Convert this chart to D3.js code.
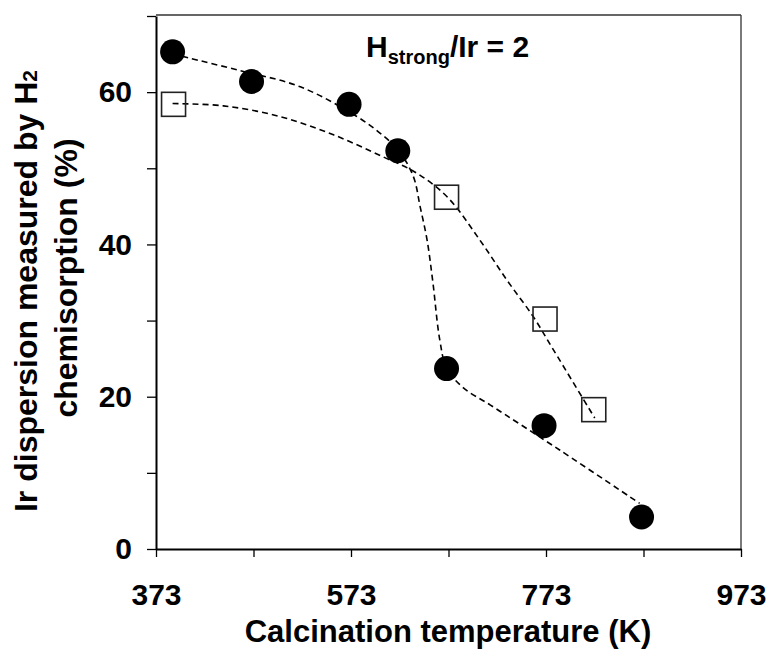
<!DOCTYPE html>
<html><head><meta charset="utf-8">
<script src="https://cdn.jsdelivr.net/npm/d3@7"></script>
<style>body{margin:0;background:#fff}svg{display:block}text{font-family:"Liberation Sans",Arial,sans-serif;font-weight:bold;fill:#000}</style>
</head><body><div id="chart"></div>
<script>
// measured points (filled circles)
const circleTemps = [390, 471, 571, 621, 671, 771, 871];
const circleValues = [65.3, 61.4, 58.4, 52.3, 23.7, 16.2, 4.2];
// measured points (open squares)
const squareTemps = [391, 671, 772, 822];
const squareValues = [58.4, 46.2, 30.2, 18.3];
// dashed fit curves
const circleFitTemps = [390, 457, 521, 579, 603, 622, 637, 644, 651, 657, 664, 671, 688, 716, 787, 869];
const circleFitValues = [65.0, 62.9, 60.7, 56.8, 54.6, 52.3, 48.9, 44.9, 40.6, 35.0, 27.5, 23.8, 21.2, 18.9, 13.0, 6.0];
const squareFitTemps = [390, 442, 500, 555, 606, 640, 672, 705, 733, 760, 779, 823];
const squareFitValues = [58.5, 58.2, 56.8, 54.4, 51.5, 49.4, 46.2, 40.6, 35.3, 30.5, 26.5, 17.2];
const xTickValues = [373, 473, 573, 673, 773, 873, 973];
const xTickLabels = ["373", "", "573", "", "773", "", "973"];
const yTickValues = [0, 10, 20, 30, 40, 50, 60, 70];
const yTickLabels = ["0", "", "20", "", "40", "", "60", ""];

const W = 769, H = 656;
const m = {l:156, r:28, t:16, b:107};
const svg = d3.select("#chart").append("svg").attr("width", W).attr("height", H);
const x = d3.scaleLinear().domain([373, 973]).range([m.l, W - m.r]);
const y = d3.scaleLinear().domain([0, 70]).range([H - m.b, m.t]);

// frame top/right
svg.append("line").attr("x1", m.l).attr("x2", W - m.r).attr("y1", m.t - 1).attr("y2", m.t - 1).attr("stroke", "#333").attr("stroke-width", 1.3);
svg.append("line").attr("x1", W - m.r).attr("x2", W - m.r).attr("y1", m.t - 1).attr("y2", H - m.b).attr("stroke", "#333").attr("stroke-width", 1.3);

const xAxis = svg.append("g").attr("transform", `translate(0,${H - m.b})`)
  .call(d3.axisBottom(x).tickValues(xTickValues).tickFormat((d,i) => xTickLabels[i]).tickSize(8).tickSizeOuter(0).tickPadding(27));
const yAxis = svg.append("g").attr("transform", `translate(${m.l},0)`)
  .call(d3.axisLeft(y).tickValues(yTickValues).tickFormat((d,i) => yTickLabels[i]).tickSize(9).tickSizeOuter(0).tickPadding(15));
[xAxis, yAxis].forEach(g => {
  g.select(".domain").attr("stroke", "#000").attr("stroke-width", 2);
  g.selectAll(".tick line").attr("stroke", "#000").attr("stroke-width", 1.3);
  g.selectAll(".tick text").attr("font-size", 30).attr("font-family", "Liberation Sans, Arial, sans-serif").attr("font-weight", "bold").attr("fill", "#000");
});

const dash = "6,4";
const line = d3.line().x(d => x(d[0])).y(d => y(d[1])).curve(d3.curveCatmullRom.alpha(0.5));
svg.append("path").datum(circleFitTemps.map((t,i) => [t, circleFitValues[i]]))
  .attr("d", line).attr("fill", "none").attr("stroke", "#000").attr("stroke-width", 1.6).attr("stroke-dasharray", dash);
svg.append("path").datum(squareFitTemps.map((t,i) => [t, squareFitValues[i]]))
  .attr("d", line).attr("fill", "none").attr("stroke", "#000").attr("stroke-width", 1.6).attr("stroke-dasharray", dash);

svg.selectAll("rect.sq").data(squareTemps).enter().append("rect").attr("class", "sq")
  .attr("x", (d,i) => x(d) - 12).attr("y", (d,i) => y(squareValues[i]) - 12)
  .attr("width", 24).attr("height", 24).attr("fill", "none").attr("stroke", "#222").attr("stroke-width", 1.6);
svg.selectAll("circle.c").data(circleTemps).enter().append("circle").attr("class", "c")
  .attr("cx", d => x(d)).attr("cy", (d,i) => y(circleValues[i])).attr("r", 12.5).attr("fill", "#000");

// annotation
const ann = svg.append("text").attr("x", 366).attr("y", 57).attr("font-size", 30);
ann.append("tspan").text("H");
ann.append("tspan").attr("font-size", 20).attr("dy", 7).text("strong");
ann.append("tspan").attr("dy", -7).text("/Ir = 2");

// axis titles
svg.append("text").attr("x", 448).attr("y", 642).attr("text-anchor", "middle").attr("font-size", 31)
  .text("Calcination temperature (K)");
const yt = svg.append("text").attr("transform", "translate(37,291) rotate(-90)").attr("text-anchor", "middle").attr("font-size", 32);
yt.append("tspan").text("Ir dispersion measured by H");
yt.append("tspan").attr("font-size", 21).text("2");
svg.append("text").attr("transform", "translate(77,278) rotate(-90)").attr("text-anchor", "middle").attr("font-size", 32)
  .text("chemisorption (%)");
</script></body></html>
